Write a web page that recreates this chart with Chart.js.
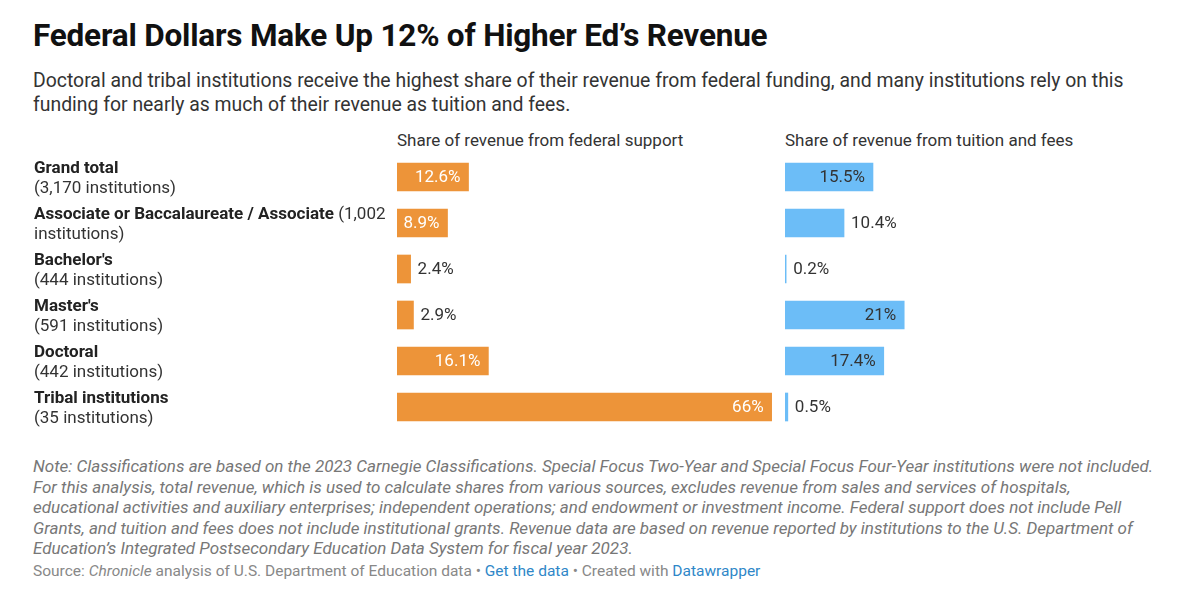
<!DOCTYPE html>
<html><head><meta charset="utf-8">
<script src="https://cdn.jsdelivr.net/npm/chart.js@4"></script>
<style>
body{margin:0;width:1200px;height:600px;background:#fff;font-family:Roboto, sans-serif;position:relative;overflow:hidden;}
.abs{position:absolute;white-space:nowrap;}
#title{left:33px;top:17px;font-size:31.5px;font-weight:700;color:#111;letter-spacing:-0.2px;}
#sub{left:33px;top:69px;font-size:19.4px;line-height:24px;color:#333;}
.hdr{top:130px;font-size:17px;color:#333;}
#notes{left:33px;top:456px;font-size:17px;line-height:20.5px;font-style:italic;color:#777;}
#src{left:33px;top:562px;font-size:15.5px;color:#888;}
#src a{color:#2f87c8;text-decoration:none;}
#w1{position:absolute;left:0;top:154px;width:783px;height:276px;}
#w2{position:absolute;left:785px;top:154px;width:386px;height:276px;}
</style></head>
<body>
<div id="title" class="abs">Federal Dollars Make Up 12% of Higher Ed’s Revenue</div>
<div id="sub" class="abs">Doctoral and tribal institutions receive the highest share of their revenue from federal funding, and many institutions rely on this<br>funding for nearly as much of their revenue as tuition and fees.</div>
<div class="abs hdr" style="left:397px">Share of revenue from federal support</div>
<div class="abs hdr" style="left:785px">Share of revenue from tuition and fees</div>
<div id="w1"><canvas id="c1"></canvas></div>
<div id="w2"><canvas id="c2"></canvas></div>
<div id="notes" class="abs">Note: Classifications are based on the 2023 Carnegie Classifications. Special Focus Two-Year and Special Focus Four-Year institutions were not included.<br>For this analysis, total revenue, which is used to calculate shares from various sources, excludes revenue from sales and services of hospitals,<br>educational activities and auxiliary enterprises; independent operations; and endowment or investment income. Federal support does not include Pell<br>Grants, and tuition and fees does not include institutional grants. Revenue data are based on revenue reported by institutions to the U.S. Department of<br>Education’s Integrated Postsecondary Education Data System for fiscal year 2023.</div>
<div id="src" class="abs">Source: <i>Chronicle</i> analysis of U.S. Department of Education data • <a>Get the data</a> • Created with <a>Datawrapper</a></div>
<script>
const categories = ["Grand total", "Associate or Baccalaureate / Associate", "Bachelor's", "Master's", "Doctoral", "Tribal institutions"];
const institutionCounts = ["3,170", "1,002", "444", "591", "442", "35"];
const federalShare = [12.6, 8.9, 2.4, 2.9, 16.1, 66];
const tuitionShare = [15.5, 10.4, 0.2, 21, 17.4, 0.5];

const ORANGE = '#ED9439';
const BLUE = '#6CBDF7';
const breakAfterName = [true, false, true, true, true, true];
const FS = 17;

const valueLabels = {
  id: 'valueLabels',
  afterDatasetsDraw(chart, args, opts) {
    const ctx = chart.ctx;
    const meta = chart.getDatasetMeta(0);
    const data = chart.data.datasets[0].data;
    ctx.save();
    ctx.font = FS + 'px Roboto';
    ctx.textBaseline = 'middle';
    meta.data.forEach((bar, i) => {
      const v = data[i];
      const txt = String(v) + '%';
      if (v >= opts.insideMin) {
        ctx.fillStyle = opts.insideColor;
        ctx.textAlign = 'right';
        ctx.fillText(txt, bar.x - 8, bar.y + 1);
      } else {
        ctx.fillStyle = '#333';
        ctx.textAlign = 'left';
        ctx.fillText(txt, bar.x + 7, bar.y + 1);
      }
    });
    ctx.restore();
  }
};

const rowLabels = {
  id: 'rowLabels',
  afterDraw(chart) {
    const ctx = chart.ctx;
    const y = chart.scales.y;
    const maxW = 362, x0 = 34, lh = 20;
    ctx.save();
    ctx.textBaseline = 'middle';
    ctx.textAlign = 'left';
    categories.forEach((name, i) => {
      const segs = [
        {text: name, bold: true, br: false},
        {text: '(' + institutionCounts[i] + ' institutions)', bold: false, br: breakAfterName[i]}
      ];
      const lines = [[]];
      let w = 0;
      segs.forEach(seg => {
        if (seg.br && lines[lines.length - 1].length) { lines.push([]); w = 0; }
        ctx.font = (seg.bold ? 'bold ' : '') + FS + 'px Roboto';
        seg.text.split(' ').forEach(word => {
          let sp = w > 0 ? ctx.measureText(' ').width : 0;
          const ww = ctx.measureText(word).width;
          if (w > 0 && w + sp + ww > maxW) { lines.push([]); w = 0; sp = 0; }
          lines[lines.length - 1].push({text: word, bold: seg.bold, x: w + sp});
          w += sp + ww;
        });
      });
      const cy = y.getPixelForValue(i) + 1.5;
      const top = cy - (lines.length - 1) * lh / 2;
      lines.forEach((ln, li) => {
        ln.forEach(tk => {
          ctx.font = (tk.bold ? 'bold ' : '') + FS + 'px Roboto';
          ctx.fillStyle = tk.bold ? '#222' : '#333';
          ctx.fillText(tk.text, x0 + tk.x, top + li * lh);
        });
      });
    });
    ctx.restore();
  }
};

function makeChart(id, values, color, leftPad, labelOpts, extraPlugins) {
  return new Chart(document.getElementById(id), {
    type: 'bar',
    data: {
      labels: categories,
      datasets: [{data: values, backgroundColor: color, borderWidth: 0, barThickness: 28}]
    },
    options: {
      indexAxis: 'y',
      responsive: true,
      maintainAspectRatio: false,
      animation: false,
      layout: {padding: {left: leftPad, right: 0, top: 0, bottom: 0}},
      scales: {
        x: {display: false, min: 0, max: 68},
        y: {display: false}
      },
      plugins: {legend: {display: false}, tooltip: {enabled: false}, valueLabels: labelOpts}
    },
    plugins: [valueLabels].concat(extraPlugins)
  });
}

makeChart('c1', federalShare, ORANGE, 397, {insideMin: 5, insideColor: '#fff'}, [rowLabels]);
makeChart('c2', tuitionShare, BLUE, 0, {insideMin: 12, insideColor: '#333'}, []);
</script>
</body></html>
